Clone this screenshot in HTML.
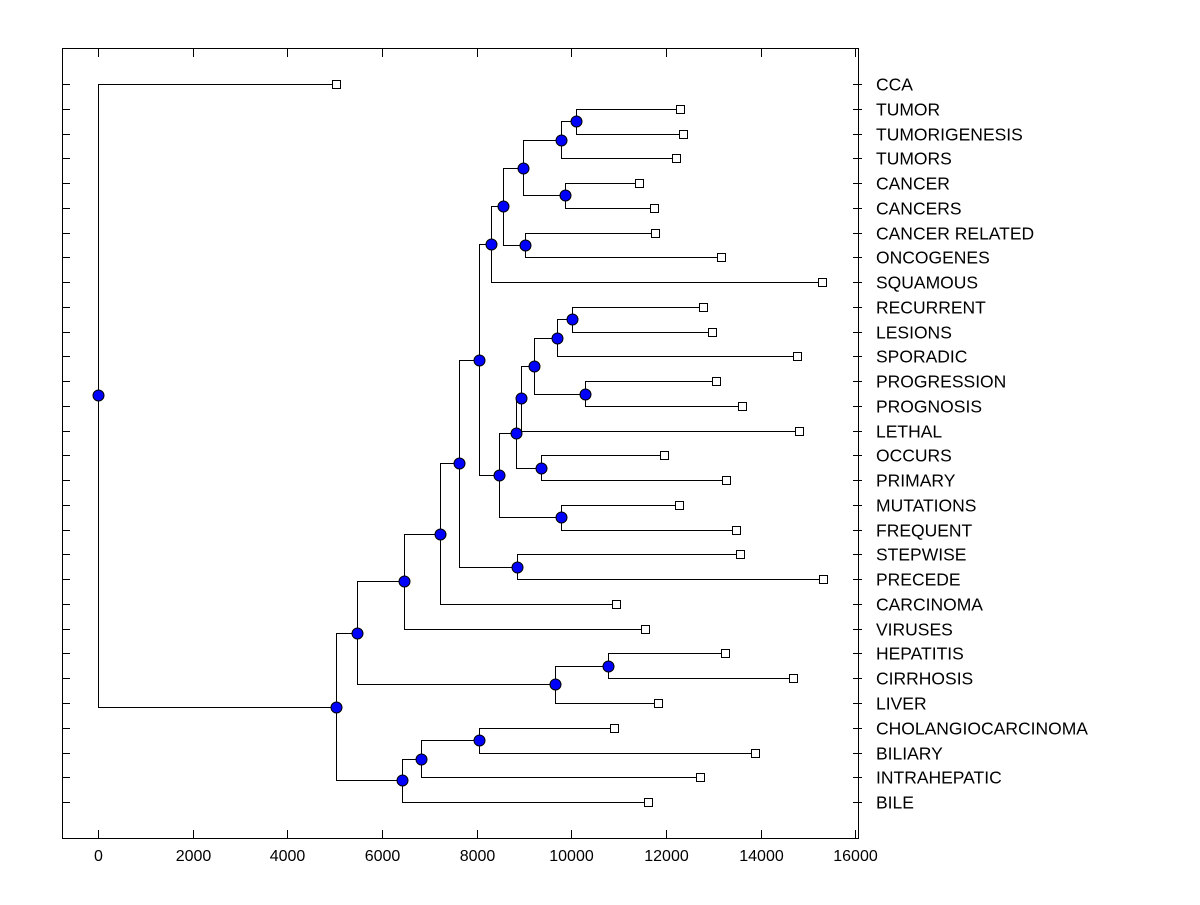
<!DOCTYPE html>
<html><head><meta charset="utf-8"><style>
html,body{margin:0;padding:0;background:#fff;}
svg text{font-family:"Liberation Sans",Arial,sans-serif;font-size:16px;fill:#000;}
</style></head><body>
<svg id="chart" width="1200" height="900" xmlns="http://www.w3.org/2000/svg">
<rect x="0" y="0" width="1200" height="900" fill="#fff"/>
<g id="marks"></g>
<rect x="62.5" y="48.5" width="796" height="790" fill="none" stroke="#000" stroke-width="1" shape-rendering="crispEdges"/>
<g id="axes"></g>
</svg>
<script>
const leaves=["CCA","TUMOR","TUMORIGENESIS","TUMORS","CANCER","CANCERS","CANCER RELATED","ONCOGENES","SQUAMOUS","RECURRENT","LESIONS","SPORADIC","PROGRESSION","PROGNOSIS","LETHAL","OCCURS","PRIMARY","MUTATIONS","FREQUENT","STEPWISE","PRECEDE","CARCINOMA","VIRUSES","HEPATITIS","CIRRHOSIS","LIVER","CHOLANGIOCARCINOMA","BILIARY","INTRAHEPATIC","BILE"];
const leafValues=[5030,12300,12360,12210,11430,11750,11770,13170,15300,12790,12980,14770,13060,13610,14810,11960,13270,12280,13480,13570,15320,10950,11560,13250,14690,11830,10900,13880,12720,11620];
// children: leaf index <100, merge node = 100+k
const mergeChildren=[[1,2],[100,3],[4,5],[101,102],[6,7],[103,104],[105,8],[9,10],[107,11],[12,13],[108,109],[110,14],[15,16],[111,112],[17,18],[113,114],[106,115],[19,20],[116,117],[118,21],[119,22],[23,24],[121,25],[120,122],[26,27],[124,28],[125,29],[123,126],[0,127]];
const mergeHeights=[10100,9780,9870,8980,9020,8560,8300,10020,9700,10290,9210,8940,9360,8830,9780,8470,8050,8850,7630,7230,6470,10780,9660,5470,8050,6830,6420,5030,0];
const xTicks=[0,2000,4000,6000,8000,10000,12000,14000,16000];

const NS="http://www.w3.org/2000/svg";
const X=v=>Math.round(98+v*0.047325)+0.5;
const rowY=i=>84+i*24.76;
const P=y=>Math.round(y)+0.5;
const marks=document.getElementById('marks'),axes=document.getElementById('axes');
function mk(tag,attrs,parent){const e=document.createElementNS(NS,tag);for(const k in attrs)e.setAttribute(k,attrs[k]);parent.appendChild(e);return e;}
const nodeY={},nodeX={};
leaves.forEach((n,i)=>{nodeY[i]=rowY(i);nodeX[i]=X(leafValues[i]);});
mergeChildren.forEach((c,k)=>{const id=100+k;nodeY[id]=(nodeY[c[0]]+nodeY[c[1]])/2;nodeX[id]=X(mergeHeights[k]);});
mergeChildren.forEach((c,k)=>{
  const id=100+k,px=nodeX[id];
  const p=mk('path',{d:`M${nodeX[c[0]]},${P(nodeY[c[0]])}H${px}V${P(nodeY[c[1]])}H${nodeX[c[1]]}`,fill:'none',stroke:'#000','stroke-width':1,'shape-rendering':'crispEdges'},marks);
  
  
});
leaves.forEach((n,i)=>{
  const y=P(nodeY[i]);
  const r=mk('rect',{x:nodeX[i]-4,y:y-4,width:8,height:8,fill:'#fff',stroke:'#000','stroke-width':1,'shape-rendering':'crispEdges'},marks);
  
  
  const t=mk('text',{x:876,y:y+6,style:'font-size:17.5px'},axes);t.textContent=n;
  
  
  const tk=mk('path',{d:`M62,${y}H70M853,${y}H862`,stroke:'#000','stroke-width':1,'shape-rendering':'crispEdges'},axes);
  
  
});
mergeChildren.forEach((c,k)=>{
  const id=100+k;
  const m=mk('circle',{cx:nodeX[id],cy:P(nodeY[id]),r:5.5,fill:'#0000ff',stroke:'#000','stroke-width':1},marks);
  
  
});
xTicks.forEach(v=>{
  const x=X(v);
  const tk=mk('path',{d:`M${x},838V830M${x},49V57`,stroke:'#000','stroke-width':1,'shape-rendering':'crispEdges'},axes);
  
  
  const t=mk('text',{x:X(v),y:861,'text-anchor':'middle'},axes);t.textContent=v;
  
  
});
</script>
</body></html>
